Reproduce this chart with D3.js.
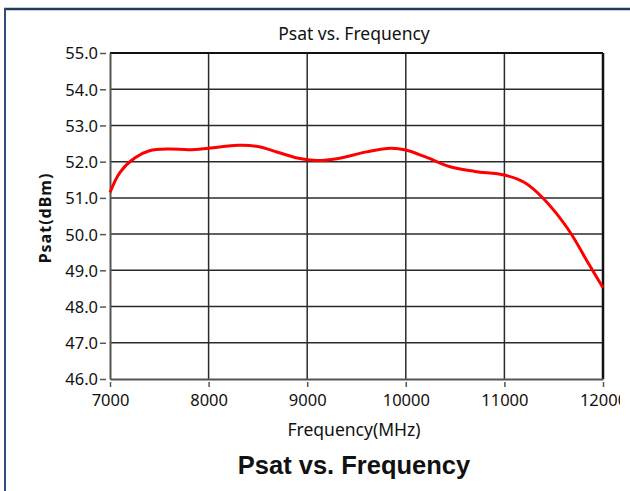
<!DOCTYPE html>
<html>
<head>
<meta charset="utf-8">
<script src="https://cdn.jsdelivr.net/npm/d3@7"></script>
<style>
  body { margin: 0; background: #fff; }
  svg { display: block; }
</style>
</head>
<body>
<svg width="630" height="491"></svg>
<script>
var freq = [7000, 7100, 7250, 7400, 7600, 7800, 8000, 8300, 8500, 8700, 8900, 9100,
            9300, 9600, 9850, 10000, 10200, 10450, 10700, 11000, 11200, 11400, 11650, 11850, 12000];
var psat = [51.15, 51.7, 52.1, 52.3, 52.35, 52.33, 52.37, 52.45, 52.42, 52.26, 52.1, 52.03,
            52.08, 52.27, 52.37, 52.32, 52.13, 51.86, 51.73, 51.63, 51.43, 50.97, 50.12, 49.2, 48.52];
var xTicks = [7000, 8000, 9000, 10000, 11000, 12000];
var yTicks = [46, 47, 48, 49, 50, 51, 52, 53, 54, 55];

var svg = d3.select("svg"),
    margin = {top: 53, right: 27, bottom: 112, left: 110},
    width = +svg.attr("width") - margin.left - margin.right,
    height = +svg.attr("height") - margin.top - margin.bottom;

var x = d3.scaleLinear().domain([7000, 12000]).range([0, width]),
    y = d3.scaleLinear().domain([46, 55]).range([height, 0]);

// outer frame, only top and left show
svg.append("line").attr("x1", 4).attr("x2", 630).attr("y1", 9).attr("y2", 9)
    .attr("stroke", "#1f3a5f").attr("stroke-width", 2.5);
svg.append("line").attr("x1", 5).attr("x2", 5).attr("y1", 8).attr("y2", 491)
    .attr("stroke", "#2c4f7c").attr("stroke-width", 2);

// clip so the last x label gets cut like the original
svg.append("clipPath").attr("id", "clip")
  .append("rect").attr("x", 0).attr("y", 0).attr("width", 620).attr("height", 491);

var g = svg.append("g").attr("clip-path", "url(#clip)")
  .append("g")
    .attr("transform", "translate(" + margin.left + "," + margin.top + ")");

// grid
g.selectAll(".hgrid").data(yTicks.slice(1, -1)).enter().append("line")
    .attr("x1", 0).attr("x2", width)
    .attr("y1", function(d) { return y(d); }).attr("y2", function(d) { return y(d); })
    .attr("stroke", "#2b2b2b").attr("stroke-width", 1.5);
g.selectAll(".vgrid").data(xTicks.slice(1, -1)).enter().append("line")
    .attr("x1", function(d) { return x(d); }).attr("x2", function(d) { return x(d); })
    .attr("y1", 0).attr("y2", height)
    .attr("stroke", "#2b2b2b").attr("stroke-width", 1.5);

// frame: top/right black, left/bottom grey
g.append("line").attr("x1", 0).attr("x2", width).attr("y1", 0).attr("y2", 0)
    .attr("stroke", "#111").attr("stroke-width", 2);
g.append("line").attr("x1", width).attr("x2", width).attr("y1", 0).attr("y2", height)
    .attr("stroke", "#111").attr("stroke-width", 2.5);

// axes
var xAxis = g.append("g")
    .attr("transform", "translate(0," + height + ")")
    .call(d3.axisBottom(x).tickValues(xTicks).tickFormat(d3.format("d")).tickSize(8).tickSizeOuter(0));
var yAxis = g.append("g")
    .call(d3.axisLeft(y).tickValues(yTicks).tickFormat(d3.format(".1f")).tickSize(10).tickSizeOuter(0));

[xAxis, yAxis].forEach(function(a) {
  a.select(".domain").attr("stroke", "#555").attr("stroke-width", 2);
  a.selectAll(".tick line").attr("stroke", "#555").attr("stroke-width", 1.5);
  a.selectAll("text").attr("fill", "#111")
    .style("font-family", "'Noto Sans', sans-serif").style("font-size", "16.5px");
});
// little detached dashes like the original
xAxis.selectAll(".tick line").attr("y1", 3);
yAxis.selectAll(".tick line").attr("x1", -4);
xAxis.selectAll("text").attr("y", 11).attr("dy", "0.95em");
yAxis.selectAll("text").attr("x", -12).attr("dy", "0.36em");

// the curve
var line = d3.line()
    .x(function(d, i) { return x(freq[i]); })
    .y(function(d) { return y(d); })
    .curve(d3.curveCatmullRom.alpha(0.5));

g.append("path")
    .datum(psat)
    .attr("fill", "none")
    .attr("stroke", "#ff0000")
    .attr("stroke-width", 3)
    .attr("d", line);

// titles
svg.append("text")
    .attr("x", 354).attr("y", 40)
    .attr("text-anchor", "middle")
    .style("font-family", "'Noto Sans', sans-serif").style("font-size", "17.5px")
    .attr("fill", "#111")
    .text("Psat vs. Frequency");

svg.append("text")
    .attr("x", 354).attr("y", 436)
    .attr("text-anchor", "middle")
    .style("font-family", "'Noto Sans', sans-serif").style("font-size", "17.5px")
    .attr("fill", "#111")
    .text("Frequency(MHz)");

svg.append("text")
    .attr("transform", "translate(51,218) rotate(-90)")
    .attr("text-anchor", "middle")
    .style("font-family", "'Noto Sans', sans-serif").style("font-size", "16px")
    .style("font-weight", "bold").style("letter-spacing", "1px")
    .attr("fill", "#111")
    .text("Psat(dBm)");

svg.append("text")
    .attr("x", 354).attr("y", 474)
    .attr("text-anchor", "middle")
    .style("font-family", "'Liberation Sans', Arial, sans-serif").style("font-size", "25.5px")
    .style("font-weight", "bold")
    .attr("fill", "#111")
    .text("Psat vs. Frequency");
</script>
</body>
</html>
